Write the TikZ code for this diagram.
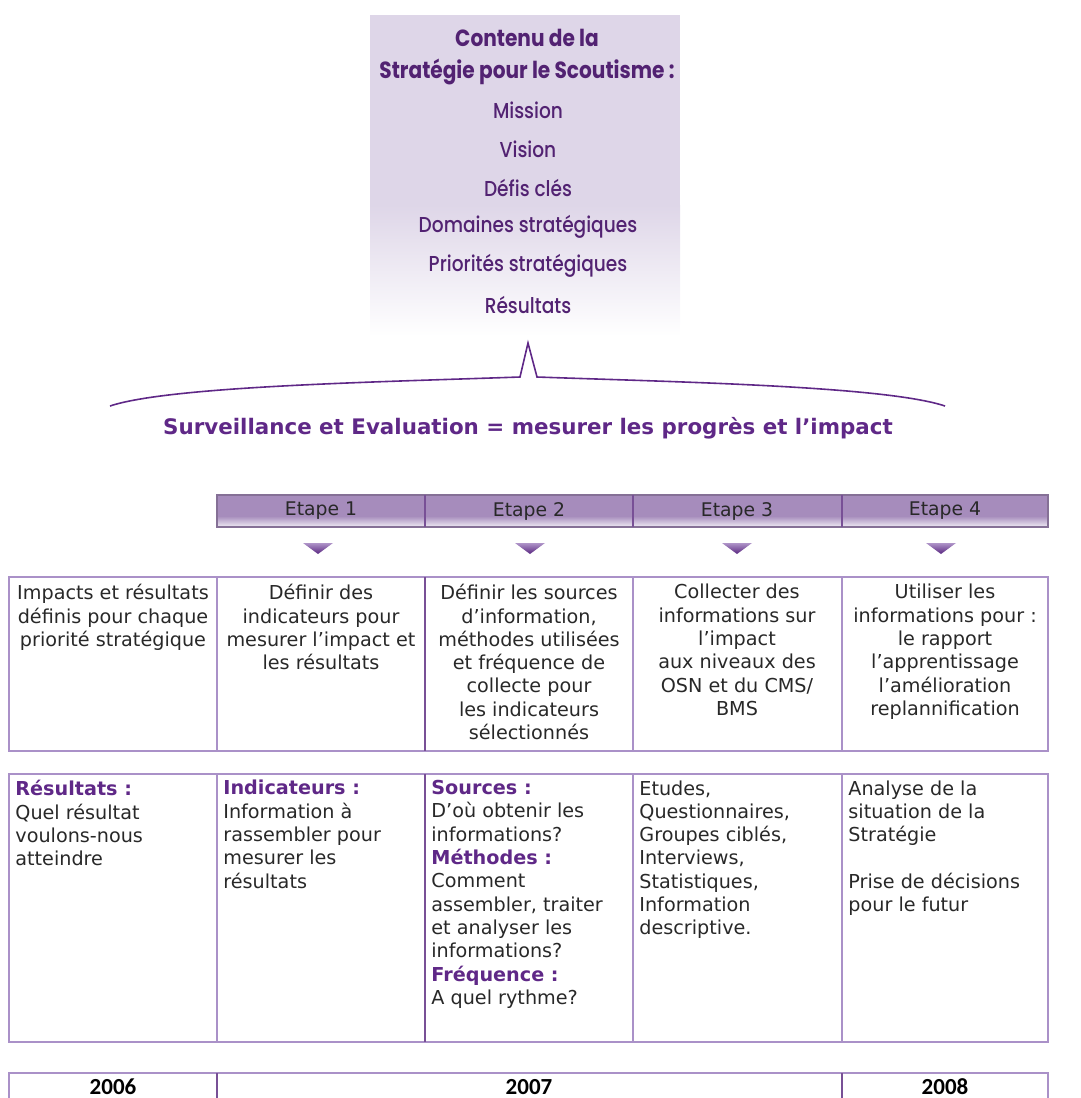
\documentclass[tikz,border=0pt]{standalone}
\usepackage{fontspec}
\setmainfont{DejaVu Sans}
\newfontfamily\geofont[FakeStretch=0.86, UprightFont=* Medium, BoldFont=* Bold]{Poppins}
\newfontfamily\yearfont{Carlito}
\usetikzlibrary{positioning}
\definecolor{sepurple}{RGB}{95,40,135}
\definecolor{sedark}{RGB}{82,34,114}
\definecolor{selav}{RGB}{222,214,232}
\definecolor{seborder}{RGB}{170,145,200}
\definecolor{sedivider}{RGB}{120,80,150}
\definecolor{sehead}{RGB}{166,140,188}
\definecolor{seheadlight}{RGB}{240,236,245}
\definecolor{setext}{RGB}{40,40,40}
\definecolor{setritop}{RGB}{175,148,200}
\definecolor{setribot}{RGB}{88,38,128}
\newcommand{\celllab}[1]{{\bfseries\color{sepurple}#1}}
\newcommand{\cellfont}{\fontsize{9.6}{11.65}\selectfont}
\tikzstyle{cellline} = [draw=seborder, line width=0.8pt]
\tikzstyle{brace} = [draw=sepurple, line width=0.8pt]

\begin{document}
\begin{tikzpicture}[
    x=0.5pt, y=-0.5pt,
    every node/.style={inner sep=0pt},
    contentline/.style={font=\geofont\fontsize{10.8}{12}\selectfont, text=sedark},
    contenttitle/.style={font=\geofont\bfseries\fontsize{11.7}{16}\selectfont, text=sedark, align=center},
    steplabel/.style={font=\fontsize{9.4}{11}\selectfont, text=setext},
    toptxt/.style={anchor=north, align=center, font=\cellfont, text=setext},
    bottxt/.style={anchor=north west, align=left, font=\cellfont, text=setext},
    year/.style={font=\yearfont\bfseries\fontsize{11.5}{13}\selectfont, text=black}
]
\useasboundingbox (0,0) rectangle (1081,1098);

% Strategy content box
\fill[selav] (370,15) rectangle (680,205);
\shade[top color=selav, bottom color=white] (370,205) rectangle (680,336);
\node[contenttitle] (title) at (527,57) {Contenu de la\\Stratégie pour le Scoutisme :};
\node[contentline] (mission) at (528,110) {Mission};
\node[contentline] (vision) at (528,149) {Vision};
\node[contentline] (defis) at (528,188) {Défis clés};
\node[contentline] (domaines) at (528,227) {Domaines stratégiques};
\node[contentline] (priorites) at (528,266) {Priorités stratégiques};
\node[contentline] (resultats) at (528,305) {Résultats};

% Brace
\coordinate (braceleft) at (110,406);
\coordinate (baseleft) at (520,377);
\coordinate (peak) at (528,343);
\coordinate (baseright) at (537,377);
\coordinate (braceright) at (945,406);
\draw[brace] (braceleft) .. controls (170,386) and (380,382) .. (baseleft)
    -- (peak) -- (baseright) .. controls (676,382) and (885,386) .. (braceright);
\node[font=\bfseries\fontsize{10.7}{13}\selectfont, text=sepurple] (headline) at (528,428)
    {Surveillance et Evaluation = mesurer les progrès et l’impact};

% Step header
\fill[sehead] (217,495) rectangle (1048,516);
\shade[top color=sehead, bottom color=seheadlight] (217,516) rectangle (1048,527);
\draw[draw=sehead!80!black, line width=0.8pt] (217,495) rectangle (1048,527);
\draw[draw=sedivider, line width=0.6pt] (425,495) -- (425,527);
\draw[draw=sedivider, line width=0.6pt] (633,495) -- (633,527);
\draw[draw=sedivider, line width=0.6pt] (842,495) -- (842,527);
\node[steplabel] (etape1) at (321,511) {Etape 1};
\node[steplabel] (etape2) at (529,511) {Etape 2};
\node[steplabel] (etape3) at (737,511) {Etape 3};
\node[steplabel] (etape4) at (945,511) {Etape 4};

% Pointers
\shade[top color=setritop, bottom color=setribot] (303,543) -- (333,543) -- (318,554) -- cycle;
\shade[top color=setritop, bottom color=setribot] (515,543) -- (545,543) -- (530,554) -- cycle;
\shade[top color=setritop, bottom color=setribot] (722,543) -- (752,543) -- (737,554) -- cycle;
\shade[top color=setritop, bottom color=setribot] (926,543) -- (956,543) -- (941,554) -- cycle;

% Row 1
\draw[cellline] (9,577) rectangle (1048,751);
\draw[cellline] (217,577) -- (217,751);
\draw[cellline, draw=sedivider] (425,577) -- (425,751);
\draw[cellline] (633,577) -- (633,751);
\draw[cellline] (842,577) -- (842,751);
\node[toptxt] (impacts) at (113,584) {Impacts et résultats\\définis pour chaque\\priorité stratégique};
\node[toptxt] (definir) at (321,584) {Définir des\\indicateurs pour\\mesurer l’impact et\\les résultats};
\node[toptxt] (sources) at (529,584) {Définir les sources\\d’information,\\méthodes utilisées\\et fréquence de\\collecte pour\\les indicateurs\\sélectionnés};
\node[toptxt] (collecter) at (737,584) {Collecter des\\informations sur\\l’impact\\aux niveaux des\\OSN et du CMS/\\BMS};
\node[toptxt] (utiliser) at (945,584) {Utiliser les\\informations pour :\\le rapport\\l’apprentissage\\l’amélioration\\replannification};

% Row 2
\draw[cellline] (9,774) rectangle (1048,1042);
\draw[cellline] (217,774) -- (217,1042);
\draw[cellline, draw=sedivider] (425,774) -- (425,1042);
\draw[cellline] (633,774) -- (633,1042);
\draw[cellline] (842,774) -- (842,1042);
\node[bottxt] (resdetail) at (15,780) {\celllab{Résultats :}\\Quel résultat\\voulons-nous\\atteindre};
\node[bottxt] (inddetail) at (223,780) {\celllab{Indicateurs :}\\Information à\\rassembler pour\\mesurer les\\résultats};
\node[bottxt] (srcdetail) at (431,780) {\celllab{Sources :}\\D’où obtenir les\\informations?\\\celllab{Méthodes :}\\Comment\\assembler, traiter\\et analyser les\\informations?\\\celllab{Fréquence :}\\A quel rythme?};
\node[bottxt] (outils) at (639,780) {Etudes,\\Questionnaires,\\Groupes ciblés,\\Interviews,\\Statistiques,\\Information\\descriptive.};
\node[bottxt] (analyse) at (848,780) {Analyse de la\\situation de la\\Stratégie\\[11.65pt]Prise de décisions\\pour le futur};

% Row 3
\draw[cellline] (9,1073) rectangle (1048,1120);
\draw[cellline, draw=sedivider] (217,1073) -- (217,1120);
\draw[cellline, draw=sedivider] (842,1073) -- (842,1120);
\node[year] (y2006) at (113,1087) {2006};
\node[year] (y2007) at (529,1087) {2007};
\node[year] (y2008) at (945,1087) {2008};

\end{tikzpicture}
\end{document}
